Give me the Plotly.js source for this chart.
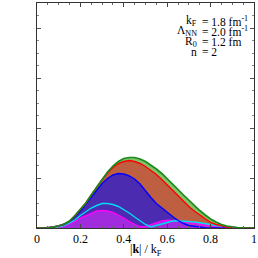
<!DOCTYPE html>
<html><head><meta charset="utf-8">
<script src="https://cdn.plot.ly/plotly-3.0.1.min.js"></script>
<style>html,body{margin:0;padding:0;background:#fff}#c{width:258px;height:258px}</style>
</head><body><div id="c"></div>
<script>
const kx = [0,0.025,0.05,0.075,0.1,0.125,0.15,0.175,0.2,0.225,0.25,0.275,0.3,0.325,0.35,0.375,0.4,0.425,0.45,0.475,0.5,0.525,0.55,0.575,0.6,0.625,0.65,0.675,0.7,0.725,0.75,0.775,0.8,0.825,0.85,0.875,0.9,0.925,0.95,0.975,1.0];
const totalVals = [0,0,0.005,0.02,0.04,0.08,0.14,0.25,0.37,0.5,0.66,0.82,0.98,1.12,1.24,1.33,1.39,1.41,1.41,1.38,1.33,1.26,1.18,1.09,0.99,0.88,0.77,0.66,0.55,0.45,0.35,0.26,0.18,0.12,0.07,0.04,0.02,0.01,0.003,0,0];
const redVals = [0,0,0.005,0.02,0.04,0.08,0.14,0.25,0.37,0.5,0.66,0.82,0.97,1.1,1.21,1.29,1.33,1.35,1.33,1.29,1.23,1.15,1.07,0.97,0.86,0.75,0.64,0.53,0.43,0.34,0.26,0.18,0.11,0.07,0.04,0.02,0.01,0.003,0,0,0];
const blueVals = [0,0,0.005,0.02,0.04,0.07,0.13,0.23,0.34,0.48,0.62,0.76,0.89,0.99,1.06,1.09,1.08,1.04,0.98,0.88,0.74,0.61,0.49,0.4,0.32,0.23,0.15,0.09,0.05,0.03,0.015,0.005,0,0,0,0,0,0,0,0,0];
const cyanVals = [0,0,0,0.005,0.02,0.05,0.1,0.16,0.25,0.33,0.4,0.45,0.49,0.49,0.47,0.43,0.37,0.3,0.22,0.14,0.07,0.02,0.05,0.09,0.12,0.14,0.145,0.14,0.13,0.12,0.105,0.085,0.065,0.045,0.03,0.015,0.007,0,0,0,0];
const magentaVals = [0,0,0,0.003,0.015,0.04,0.08,0.13,0.2,0.25,0.3,0.34,0.35,0.34,0.31,0.26,0.2,0.13,0.07,0.02,0.03,0.07,0.11,0.14,0.155,0.155,0.145,0.13,0.11,0.09,0.075,0.055,0.04,0.025,0.015,0.005,0,0,0,0,0];
const xTickVals = [0,0.2,0.4,0.6,0.8,1];
const xTickText = ['0','0.2','0.4','0.6','0.8','1'];
const xTitle = '|<b>k</b>| / k<sub>F</sub>';
const labelLeft = ['k<sub>F</sub>','Λ<sub>NN</sub>','R<sub>0</sub>','n'];
const labelRight = ['= 1.8 fm<sup>-1</sup>','= 2.0 fm<sup>-1</sup>','= 1.2 fm','= 2'];

function fillTrace(y, fc){return {x:kx,y:y,type:'scatter',mode:'lines',fill:'tozeroy',fillcolor:fc,line:{width:0,color:fc},hoverinfo:'skip'};}
function lineTrace(y, c, w){return {x:kx,y:y,type:'scatter',mode:'lines',line:{width:w||1.4,color:c},hoverinfo:'skip'};}
const data = [
  fillTrace(totalVals,'#7fc26a'),
  fillTrace(redVals,'#bf5f42'),
  fillTrace(blueVals,'#4b2bb0'),
  fillTrace(magentaVals,'rgba(185,45,235,0.78)'),
  lineTrace(magentaVals,'#ff00ff'),
  lineTrace(cyanVals,'#00dcf5'),
  lineTrace(blueVals,'#0000ff'),
  lineTrace(redVals,'#ff0000'),
  lineTrace(totalVals,'#1a8a1a',1.7)
];
const ann = [];
const ys = [0.92,0.875,0.828,0.782];
for(let i=0;i<labelLeft.length;i++){
  ann.push({xref:'paper',yref:'paper',x:0.745,y:ys[i],xanchor:'right',yanchor:'middle',text:labelLeft[i],showarrow:false,font:{family:'Liberation Serif',size:11.5,color:'#000'}});
  ann.push({xref:'paper',yref:'paper',x:0.75,y:ys[i],xanchor:'left',yanchor:'middle',text:labelRight[i],showarrow:false,font:{family:'Liberation Serif',size:11.5,color:'#000'}});
}
ann.push({xref:'paper',yref:'paper',x:0.5,y:-0.098,xanchor:'center',yanchor:'middle',text:xTitle,showarrow:false,font:{family:'Liberation Serif',size:12,color:'#000'}});
const layout = {
  width:258,height:258,margin:{l:37,r:4,t:3,b:30},
  paper_bgcolor:'#fff',plot_bgcolor:'#fff',showlegend:false,
  font:{family:'Liberation Serif',size:12,color:'#000'},
  xaxis:{range:[0,1],tickvals:xTickVals,ticktext:xTickText,ticks:'inside',ticklen:4,tickcolor:'#444',
    mirror:'allticks',showline:true,linecolor:'#333',linewidth:1,showgrid:false,zeroline:false,
    minor:{dtick:0.05,ticks:'inside',ticklen:2,tickcolor:'#666'},
    tickfont:{family:'Liberation Serif',size:12}},
  yaxis:{range:[0,4.5],dtick:1,tick0:0,ticks:'inside',ticklen:4,tickcolor:'#555',showticklabels:false,
    mirror:'allticks',showline:true,linecolor:'#333',linewidth:1,showgrid:false,zeroline:false,
    minor:{dtick:0.25,ticks:'inside',ticklen:2,tickcolor:'#888'}},
  annotations:ann
};
Plotly.newPlot('c',data,layout,{staticPlot:true,displayModeBar:false});
</script></body></html>
